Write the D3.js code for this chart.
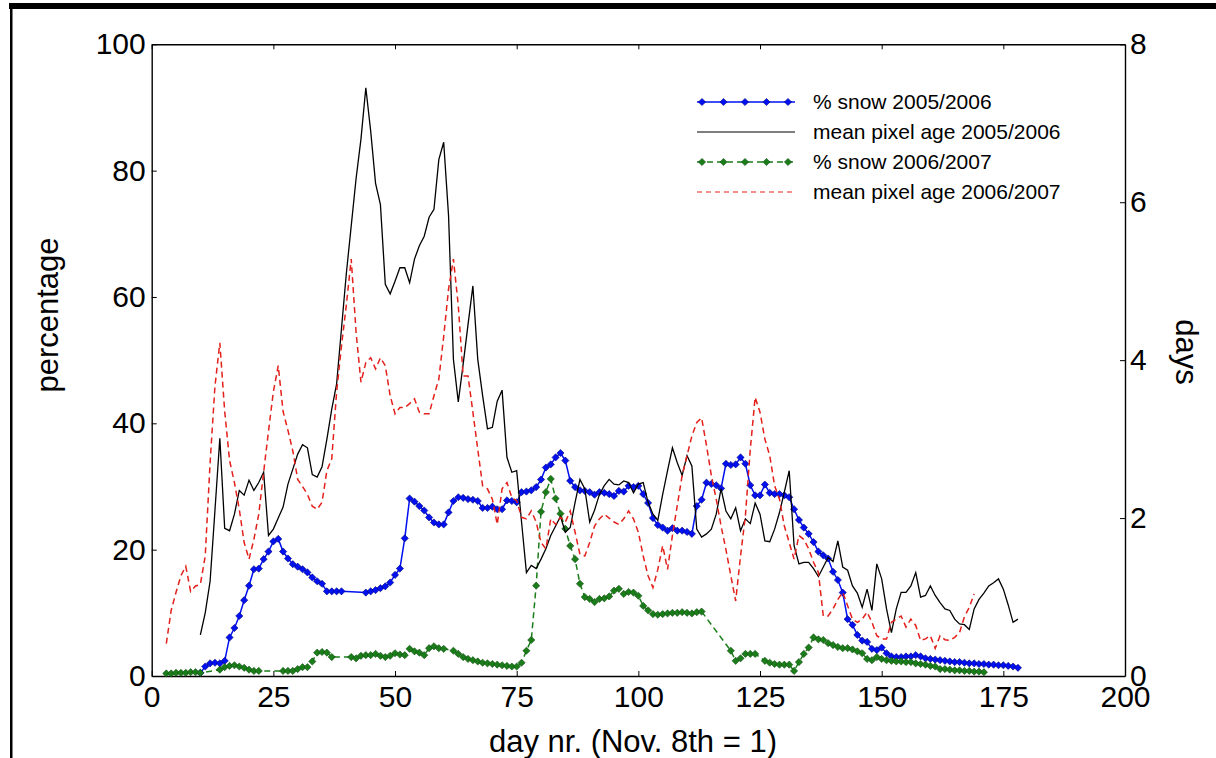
<!DOCTYPE html>
<html>
<head>
<meta charset="utf-8">
<script src="https://cdn.jsdelivr.net/npm/d3@7"></script>
<style>
body { margin: 0; background: #fff; }
svg { display: block; }
text { font-family: "Liberation Sans", Arial, sans-serif; fill: #000; }
</style>
</head>
<body>
<div id="chart"></div>
<script>
// % snow 2005/2006 (left axis, percentage)
var snow0506Days = d3.range(10, 40).concat(d3.range(44, 179));
var snow0506 = [0.5,1.5,2.0,2.1,2.0,2.4,6.1,7.6,9.5,12.0,
	14.3,16.9,17.0,18.5,19.7,21.3,21.7,19.7,18.6,17.7,
	17.3,16.9,16.4,15.6,15.0,14.6,13.4,13.4,13.4,13.4,
	13.2,13.4,13.6,13.9,14.2,14.8,
	16.0,17.0,21.8,28.1,27.6,26.9,26.2,25.1,24.3,24.0,
	24.0,25.9,27.7,28.3,28.2,28.0,27.9,27.7,26.6,26.6,
	26.8,26.4,26.4,27.8,27.7,27.5,29.1,29.2,29.4,29.9,
	31.1,33.0,33.5,34.6,35.3,34.1,30.9,29.9,29.4,29.3,
	29.1,28.7,29.1,29.0,28.8,28.5,29.3,29.2,30.1,29.9,
	30.1,28.8,27.4,25.0,23.9,23.5,23.0,23.4,23.0,23.0,
	22.8,22.5,26.9,27.9,30.6,30.4,30.2,29.7,33.6,33.4,
	33.5,34.6,33.6,30.2,28.6,28.6,30.3,29.0,28.8,28.8,
	28.6,28.3,26.4,24.7,23.5,22.5,21.2,19.7,19.1,18.6,
	16.5,15.2,13.2,9.0,8.1,6.5,5.6,5.4,4.3,4.1,
	4.5,3.6,3.1,3.0,3.0,3.1,3.1,3.3,3.1,2.8,
	2.7,2.6,2.5,2.4,2.3,2.2,2.2,2.1,2.0,2.0,
	1.9,1.9,1.8,1.8,1.7,1.7,1.6,1.5,1.3];

// mean pixel age 2005/2006 (right axis, days)
var age0506Days = d3.range(10, 179);
var age0506 = [0.52,0.8,1.2,2.1,3.01,1.87,1.84,2.05,2.35,2.29,
	2.48,2.35,2.45,2.58,1.78,1.86,2.0,2.14,2.43,2.62,
	2.81,2.93,2.89,2.55,2.52,2.65,3.0,3.38,3.70,4.4,
	5.1,5.7,6.3,6.8,7.45,6.9,6.24,5.97,4.96,4.84,
	5.0,5.17,5.17,4.98,5.28,5.45,5.57,5.81,5.91,6.54,
	6.76,5.83,4.01,3.47,3.95,4.45,4.94,4.01,3.55,3.13,
	3.15,3.48,3.62,2.77,2.58,2.60,1.95,1.31,1.40,1.36,
	1.48,1.61,1.78,1.9,2.02,1.82,1.88,2.2,2.49,2.37,
	1.95,2.1,2.30,2.41,2.49,2.43,2.42,2.47,2.45,2.32,
	2.43,2.45,2.20,2.05,1.97,2.3,2.6,2.89,2.7,2.54,
	2.79,2.66,1.86,1.76,1.8,1.86,2.05,2.37,2.09,1.99,
	2.13,1.84,1.99,1.93,2.19,2.05,1.71,1.70,1.86,2.07,
	2.33,2.60,1.65,1.42,1.44,1.44,1.36,1.26,1.38,1.50,
	1.45,1.71,1.38,1.34,1.14,1.05,0.87,1.10,0.83,1.42,
	1.23,0.85,0.55,0.85,1.06,1.06,1.14,1.31,1.0,1.02,
	1.14,1.02,0.93,0.85,0.83,0.72,0.66,0.65,0.59,0.85,
	0.97,1.05,1.14,1.18,1.23,1.1,0.9,0.68,0.72];

// % snow 2006/2007 (left axis)
var snow0607Days = d3.range(3, 11).concat(d3.range(14, 23), d3.range(27, 38),
	d3.range(41, 61), d3.range(62, 114), d3.range(119, 125), d3.range(126, 172));
var snow0607 = [0.4,0.4,0.5,0.5,0.5,0.6,0.6,0.5,
	1.0,1.4,1.6,1.7,1.5,1.3,1.0,0.8,0.8,
	0.8,0.8,0.8,1.1,1.4,1.4,2.3,3.7,3.8,3.7,3.0,
	3.0,2.8,3.2,3.3,3.3,3.5,3.2,3.0,3.2,3.6,3.4,3.3,4.3,3.9,3.7,3.3,4.4,4.7,4.4,4.3,
	4.0,3.5,3.0,2.7,2.5,2.3,2.1,2.0,1.9,1.8,
	1.7,1.6,1.5,1.5,2.1,4.0,5.7,14.3,26.0,29.1,
	31.2,28.1,25.7,23.3,20.6,18.5,14.6,12.5,12.2,11.7,
	12.2,12.3,12.6,13.5,13.8,13.0,13.3,13.2,12.7,11.1,
	10.4,9.8,9.7,9.8,9.9,10.0,10.0,10.1,10.0,9.9,
	10.1,10.2,
	4.0,2.4,2.8,3.5,3.5,3.5,
	2.4,2.1,1.9,1.8,1.8,1.8,0.8,2.2,3.5,4.5,
	6.1,5.8,5.7,5.2,4.9,4.6,4.4,4.4,4.2,3.9,
	3.6,2.7,2.5,3.0,2.7,2.5,2.4,2.3,2.3,2.2,
	2.2,2.0,1.9,1.8,1.6,1.5,1.1,1.1,1.0,0.9,
	0.9,0.8,0.8,0.7,0.7,0.6];

// mean pixel age 2006/2007 (right axis)
var age0607Days = d3.range(3, 170);
var age0607 = [0.41,0.83,1.06,1.27,1.39,1.07,1.14,
	1.16,1.52,2.70,3.67,4.22,3.35,2.73,2.45,2.11,1.69,
	1.48,1.73,2.05,2.58,3.1,3.6,3.93,3.35,3.11,2.85,
	2.49,2.4,2.3,2.15,2.11,2.2,2.6,2.75,3.6,4.18,
	4.7,5.28,4.35,3.72,3.97,4.03,3.89,4.03,3.93,3.55,
	3.32,3.40,3.40,3.45,3.51,3.34,3.32,3.32,3.55,3.76,
	4.3,4.9,5.28,4.69,3.80,3.80,3.34,2.87,2.41,2.37,
	2.24,1.92,2.37,2.45,2.26,2.22,2.01,1.99,2.09,1.95,
	1.69,1.61,1.99,1.92,2.01,1.95,2.09,1.82,1.54,1.52,
	1.69,1.90,1.99,2.05,2.0,1.95,1.92,1.99,2.09,1.99,
	1.82,1.52,1.27,1.12,1.35,1.65,1.35,1.78,2.16,2.54,
	2.79,3.04,3.21,3.27,2.92,2.54,2.24,1.9,1.6,1.27,
	0.95,1.52,2.03,2.87,3.53,3.34,3.0,2.79,2.41,2.24,
	1.90,1.69,1.48,1.78,1.73,1.61,1.44,1.31,0.76,0.76,
	0.85,0.97,1.06,0.89,0.72,0.68,0.72,0.81,0.68,0.51,
	0.47,0.47,0.68,0.72,0.76,0.62,0.72,0.64,0.45,0.47,
	0.51,0.35,0.51,0.46,0.45,0.49,0.55,0.75,0.87,1.04];

var xTicks = [0, 25, 50, 75, 100, 125, 150, 175, 200];
var pctTicks = [0, 20, 40, 60, 80, 100];
var dayTicks = [0, 2, 4, 6, 8];
var legendLabels = ["% snow 2005/2006", "mean pixel age 2005/2006",
	"% snow 2006/2007", "mean pixel age 2006/2007"];

drawChart();

function drawChart() {
	var width = 1216, height = 758;
	var pLeft = 151.7, pRight = 1125, pTop = 44.3, pBottom = 676;
	var blue = "#0010f0", green = "#1a7d1a", red = "#e3201b";

	var svg = d3.select("#chart").append("svg")
		.attr("width", width)
		.attr("height", height);

	svg.append("rect").attr("width", width).attr("height", height).attr("fill", "#fff");

	// outer frame fragments
	svg.append("rect").attr("x", 9).attr("y", 3).attr("width", width - 9).attr("height", 6).attr("fill", "#000");
	svg.append("rect").attr("x", 10).attr("y", 3).attr("width", 2.5).attr("height", height - 3).attr("fill", "#000");

	var x = d3.scaleLinear().domain([0, 200]).range([pLeft, pRight]);
	var yPct = d3.scaleLinear().domain([0, 100]).range([pBottom, pTop]);
	var yDay = d3.scaleLinear().domain([0, 8]).range([pBottom, pTop]);

	function pairs(days, vals) {
		return days.map(function(d, i) { return [d, vals[i]]; });
	}

	function diamond(r) {
		return "M0," + (-r) + "L" + r + ",0L0," + r + "L" + (-r) + ",0Z";
	}

	// axes
	var gx = svg.append("g").attr("transform", "translate(0," + pBottom + ")")
		.call(d3.axisBottom(x).tickValues(xTicks).tickSize(-5).tickSizeOuter(0).tickPadding(10));
	var gxTop = svg.append("g").attr("transform", "translate(0," + pTop + ")")
		.call(d3.axisTop(x).tickValues(xTicks).tickSize(-5).tickSizeOuter(0).tickFormat(""));
	var gy = svg.append("g").attr("transform", "translate(" + pLeft + ",0)")
		.call(d3.axisLeft(yPct).tickValues(pctTicks).tickSize(-5).tickSizeOuter(0).tickPadding(6));
	var gy2 = svg.append("g").attr("transform", "translate(" + pRight + ",0)")
		.call(d3.axisRight(yDay).tickValues(dayTicks).tickSize(-5).tickSizeOuter(0).tickPadding(5));

	[gx, gxTop, gy, gy2].forEach(function(g) {
		g.select(".domain").attr("stroke", "#000").attr("stroke-width", 1.4);
		g.selectAll(".tick line").attr("stroke", "#000").attr("stroke-width", 1);
		g.selectAll(".tick text")
			.attr("font-family", "Liberation Sans, Arial, sans-serif")
			.attr("font-size", 30)
			.attr("fill", "#000");
	});

	var line = function(ys) {
		return d3.line().x(function(d) { return x(d[0]); }).y(function(d) { return ys(d[1]); });
	};

	var s1 = pairs(snow0506Days, snow0506);
	var s2 = pairs(age0506Days, age0506);
	var s3 = pairs(snow0607Days, snow0607);
	var s4 = pairs(age0607Days, age0607);

	svg.append("path").datum(s1).attr("d", line(yPct))
		.attr("fill", "none").attr("stroke", blue).attr("stroke-width", 1.5);
	svg.selectAll(".m1").data(s1).enter().append("path")
		.attr("class", "m1")
		.attr("transform", function(d) { return "translate(" + x(d[0]) + "," + yPct(d[1]) + ")"; })
		.attr("d", diamond(3.6))
		.attr("fill", blue).attr("stroke", "#00007a").attr("stroke-width", 0.6);

	svg.append("path").datum(s3).attr("d", line(yPct))
		.attr("fill", "none").attr("stroke", green).attr("stroke-width", 1.5)
		.attr("stroke-dasharray", "6,4");
	svg.selectAll(".m3").data(s3).enter().append("path")
		.attr("class", "m3")
		.attr("transform", function(d) { return "translate(" + x(d[0]) + "," + yPct(d[1]) + ")"; })
		.attr("d", diamond(3.6))
		.attr("fill", green).attr("stroke", "#0b4a0b").attr("stroke-width", 0.6);

	svg.append("path").datum(s2).attr("d", line(yDay))
		.attr("fill", "none").attr("stroke", "#000").attr("stroke-width", 1.3);

	svg.append("path").datum(s4).attr("d", line(yDay))
		.attr("fill", "none").attr("stroke", red).attr("stroke-width", 1.5)
		.attr("stroke-dasharray", "6,4");

	// axis titles
	svg.append("text")
		.attr("transform", "translate(58,315) rotate(-90)")
		.attr("text-anchor", "middle")
		.attr("font-size", 31)
		.text("percentage");
	svg.append("text")
		.attr("transform", "translate(1176,352) rotate(90)")
		.attr("text-anchor", "middle")
		.attr("font-size", 31)
		.text("days");
	svg.append("text")
		.attr("x", 633).attr("y", 752)
		.attr("text-anchor", "middle")
		.attr("font-size", 31)
		.text("day nr. (Nov. 8th = 1)");

	// legend
	var legY = [102, 132, 162, 192];
	var lx0 = 697, lx1 = 795;
	var leg = svg.append("g");
	var styles = [
		{ stroke: blue, dash: null, marker: blue, edge: "#00007a", w: 1.5 },
		{ stroke: "#000", dash: null, marker: null, w: 1.2 },
		{ stroke: green, dash: "6,4", marker: green, edge: "#0b4a0b", w: 1.5 },
		{ stroke: red, dash: "5,4", marker: null, w: 1.2 }
	];
	legendLabels.forEach(function(lbl, i) {
		var st = styles[i];
		leg.append("line")
			.attr("x1", lx0).attr("x2", lx1).attr("y1", legY[i]).attr("y2", legY[i])
			.attr("stroke", st.stroke).attr("stroke-width", st.w)
			.attr("stroke-dasharray", st.dash);
		if (st.marker) {
			d3.range(5).forEach(function(k) {
				leg.append("path")
					.attr("transform", "translate(" + (lx0 + 5 + k * 21.5) + "," + legY[i] + ")")
					.attr("d", diamond(3.6))
					.attr("fill", st.marker).attr("stroke", st.edge).attr("stroke-width", 0.6);
			});
		}
		leg.append("text")
			.attr("x", 813).attr("y", legY[i])
			.attr("dy", "0.35em")
			.attr("font-size", 21)
			.text(lbl);
	});
}
</script>
</body>
</html>
